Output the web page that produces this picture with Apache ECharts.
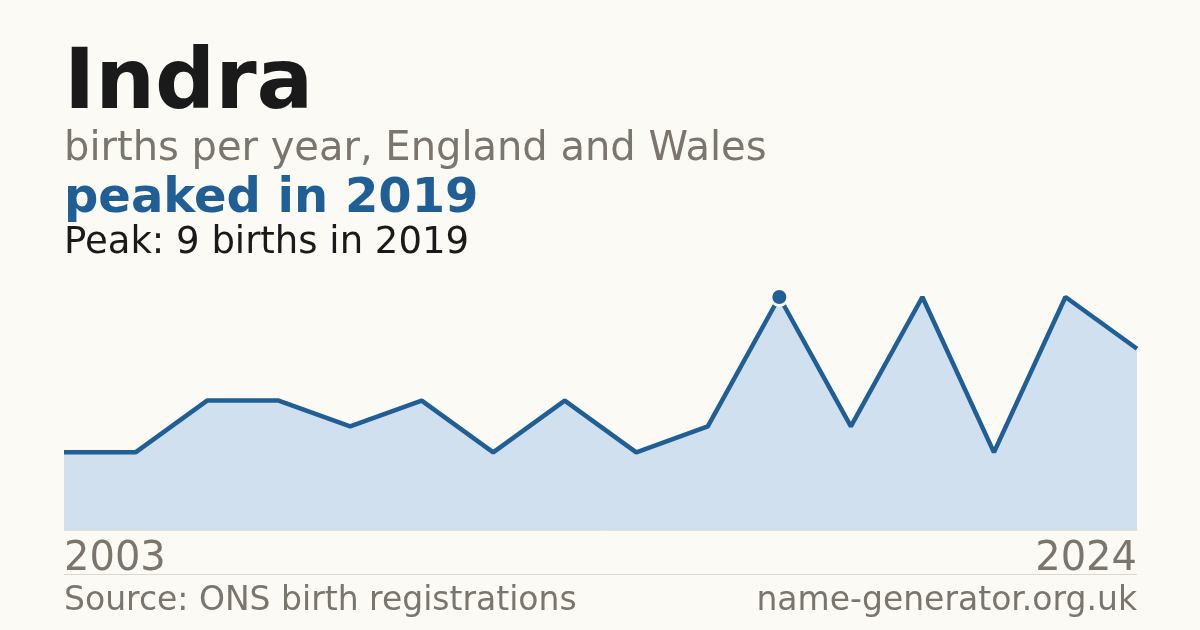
<!DOCTYPE html>
<html>
<head>
<meta charset="utf-8">
<script src="https://cdn.jsdelivr.net/npm/echarts@6/dist/echarts.min.js"></script>
<style>
  html, body { margin: 0; padding: 0; background: #fbfaf5; }
  #chart { width: 1200px; height: 630px; }
</style>
</head>
<body>
<div id="chart"></div>
<script>
// years with data (gaps where ONS suppressed small counts)
var years = ['2003', '2004', '2006', '2007', '2009', '2011', '2012', '2014', '2016', '2018',
             '2019', '2020', '2021', '2022', '2023', '2024'];
var births = [3, 3, 5, 5, 4, 5, 3, 5, 3, 4, 9, 4, 9, 3, 9, 7];
var peakIndex = 10;

var font = 'DejaVu Sans';
var chart = echarts.init(document.getElementById('chart'), null, { renderer: 'canvas' });

// place text by its baseline (roughly)
function txt(text, x, baseline, size, weight, color, align) {
  return {
    type: 'text', x: x, y: baseline + 3 - 0.846 * size,
    style: {
      text: text, fontFamily: font, fontSize: size, fontWeight: weight,
      fill: color, align: align || 'left', verticalAlign: 'top'
    }
  };
}

var option = {
  backgroundColor: '#fbfaf5',
  animation: false,
  grid: { left: 64, right: 63, top: 297, bottom: 100 },
  xAxis: {
    type: 'category',
    data: years,
    boundaryGap: false,
    axisLine: { show: true, lineStyle: { color: '#e3e0d9', width: 1 } },
    axisTick: { show: false },
    axisLabel: {
      interval: function (i) { return i === 0 || i === years.length - 1; },
      alignMinLabel: 'left',
      alignMaxLabel: 'right',
      color: '#7a756d',
      fontFamily: font,
      fontSize: 40,
      margin: 10
    },
    splitLine: { show: false }
  },
  yAxis: {
    type: 'value',
    min: 0,
    max: 9,
    show: false
  },
  series: [
    {
      type: 'line',
      data: births,
      clip: false,
      symbol: 'none',
      lineStyle: { color: '#1f5f96', width: 4.5 },
      areaStyle: { color: '#d0e0ef', opacity: 1 },
      markPoint: {
        symbol: 'circle',
        symbolSize: 17,
        label: { show: false },
        itemStyle: { color: '#1f5f96', borderColor: '#fbfaf5', borderWidth: 3 },
        data: [{ coord: [peakIndex, births[peakIndex]] }]
      }
    }
  ],
  graphic: [
    txt('Indra', 64, 112, 84, 'bold', '#1a1a1a'),
    txt('births per year, England and Wales', 64, 160, 40, 'normal', '#7a756d'),
    txt('peaked in ' + years[peakIndex], 64, 213, 48, 'bold', '#1f5f96'),
    txt('Peak: ' + births[peakIndex] + ' births in ' + years[peakIndex], 64, 253, 37, 'normal', '#1a1a1a'),
    { type: 'rect', shape: { x: 64, y: 574, width: 1073, height: 1 }, style: { fill: '#dcd9d2' } },
    txt('Source: ONS birth registrations', 64, 610, 33, 'normal', '#7a756d'),
    txt('name-generator.org.uk', 1137, 610, 33, 'normal', '#7a756d', 'right')
  ]
};
chart.setOption(option);
</script>
</body>
</html>
